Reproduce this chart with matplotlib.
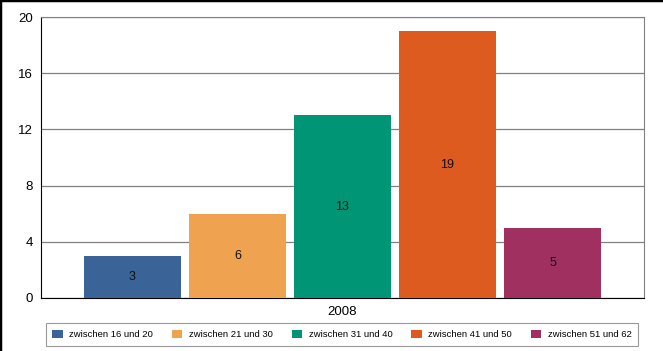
import matplotlib
matplotlib.use("Agg")
import matplotlib.pyplot as plt
from matplotlib.lines import Line2D

plt.rcParams['font.family'] = ['Liberation Sans', 'DejaVu Sans']

categories = ["zwischen 16 und 20", "zwischen 21 und 30", "zwischen 31 und 40",
              "zwischen 41 und 50", "zwischen 51 und 62"]
values = [3, 6, 13, 19, 5]
colors = ["#3A6398", "#EFA350", "#009574", "#DE5B1F", "#A0305F"]
year_label = "2008"
yticks = [0, 4, 8, 12, 16, 20]

fig = plt.figure(figsize=(6.63, 3.51), dpi=100)
ax = fig.add_axes([41/663, 1-298/351, (644-41)/663, (298-17)/351])

for i, (c, v, col) in enumerate(zip(categories, values, colors)):
    ax.bar(i, v, width=0.925, color=col, label=c, zorder=3)
    ax.text(i, v/2, str(v), ha='center', va='center', fontsize=9, color='#111111', zorder=4)

ax.set_ylim(0, 20)
ax.set_xlim(-0.871, len(values)-1+0.871)
ax.set_yticks(yticks)
ax.set_yticklabels([str(t) for t in yticks], fontsize=9.5)
ax.set_xticks([(len(values)-1)/2])
ax.set_xticklabels([year_label], fontsize=9.5)
ax.tick_params(axis='both', length=0, pad=6)
ax.yaxis.grid(True, color='#808080', linewidth=0.9, zorder=0)
ax.spines['left'].set_color('black')
ax.spines['bottom'].set_color('black')
ax.spines['right'].set_color('#808080')
ax.spines['top'].set_color('#808080')

leg = fig.legend(loc='center', bbox_to_anchor=(342/663, 1-334.5/351), ncol=5,
                 fontsize=6.8, frameon=True, fancybox=False, edgecolor='#808080',
                 handlelength=1.1, handleheight=1.0, handletextpad=0.7,
                 columnspacing=2.0, borderpad=0.7)
leg.get_frame().set_linewidth(0.8)

fig.add_artist(Line2D([0, 0], [0, 1], transform=fig.transFigure, color='black', linewidth=2.5))
fig.add_artist(Line2D([0, 1], [1, 1], transform=fig.transFigure, color='black', linewidth=2.5))

fig.savefig("out.png", dpi=100)
